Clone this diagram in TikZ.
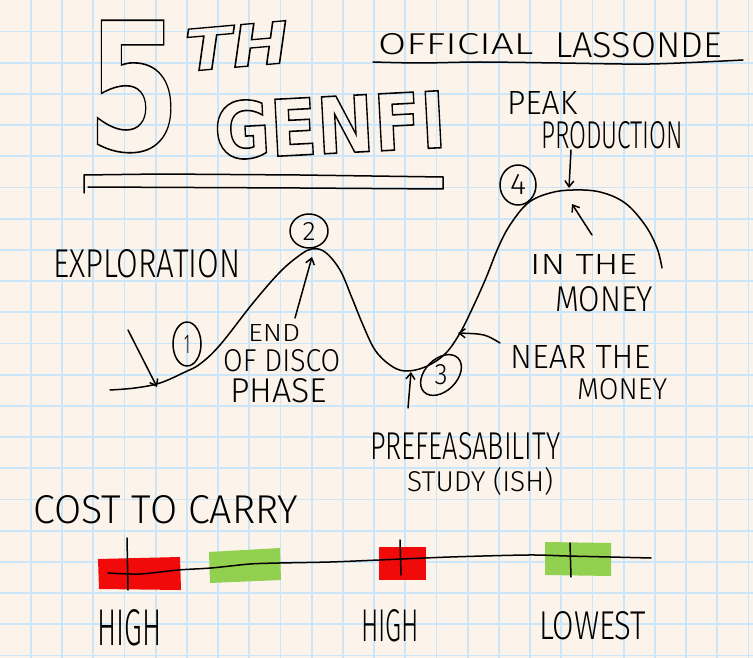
\documentclass[tikz,border=0pt]{standalone}
\usepackage{fontspec}
\usetikzlibrary{arrows.meta,shapes.geometric}
\IfFontExistsTF{Fira Sans Light}{\newfontfamily\hand{Fira Sans Light}}{\newfontfamily\hand{Fira Sans}}
\newfontfamily\titlefont{DejaVu Sans}
\definecolor{paper}{HTML}{FCF3EA}
\definecolor{gridblue}{HTML}{CAE6F8}
\definecolor{hired}{HTML}{F00A0A}
\definecolor{logreen}{HTML}{92D050}
\newcommand{\hw}[3]{\resizebox{#1pt}{#2pt}{\hand\fontsize{20}{24}\selectfont #3}}
\newcommand{\outl}[2]{\special{pdf:literal direct #1 w 1 Tr}#2\special{pdf:literal direct 0 Tr}}
\begin{document}
\begin{tikzpicture}[x=1pt,y=-1pt,
  hand/.style={line width=1.5pt,line cap=round,line join=round,draw=black},
  harrow/.style={hand,-{Straight Barb[length=6pt,width=9pt]}},
  txt/.style={anchor=south west,inner sep=0pt},
  gridline/.style={line width=1.8pt,draw=gridblue},
  numcirc/.style={draw,ellipse,hand,inner sep=0pt}]
\useasboundingbox (0,0) rectangle (753,658);
\fill[paper] (0,0) rectangle (753,658);
\foreach \i in {0,...,23} \draw[gridline] ({30.8+31.2*\i},0) -- ({30.8+31.2*\i},658);
\foreach \j in {0,...,20} \draw[gridline] (0,{31.5+31.2*\j}) -- (753,{31.5+31.2*\j});

% title
\node[txt] (five) at (87,153) {\resizebox{93pt}{130pt}{\titlefont\bfseries\fontsize{180}{180}\selectfont\outl{1.6}{5}}};
\node[inner sep=0pt,rotate=5] (th) at (237,46) {\resizebox{104pt}{42pt}{\titlefont\bfseries\itshape\fontsize{60}{60}\selectfont\outl{1.4}{TH}}};
\node[inner sep=0pt,rotate=3] (genfi) at (330,125) {\resizebox{232pt}{58pt}{\titlefont\bfseries\fontsize{60}{60}\selectfont\outl{1.2}{GENFI}}};
\draw[hand] (84,193) -- (84,175) -- (160,174) -- (300,175) -- (443,177) -- (443,189) -- (300,188) -- (88,187);

\node[txt] (official) at (378,55) {\hw{155}{21}{OFFICIAL}};
\node[txt] (lassonde) at (555,58) {\hw{167}{25}{LASSONDE}};
\draw[hand] plot[smooth] coordinates {(373,62) (420,63) (480,62) (560,63) (650,64) (743,60)};

% curve
\draw[hand] plot[smooth,tension=0.6] coordinates {(110,390) (135,388) (160,383) (185,372) (200,364) (220,345) (253,303) (280,272) (300,255) (312,249) (325,252) (340,270) (352,298) (363,325) (375,350) (390,365) (405,371) (425,367) (445,354) (460,333) (473,307) (486,278) (498,248) (510,225) (528,203) (550,193) (573,190) (600,192) (625,203) (645,225) (657,248) (662,268)};

\node[numcirc,minimum width=28pt,minimum height=44pt] (c1) at (187,344) {\hw{6}{18}{1}};
\node[numcirc,minimum width=38pt,minimum height=34pt] (c2) at (309,231) {\hw{13}{18}{2}};
\node[inner sep=0pt] (c3) at (441,375) {\hw{13}{20}{3}};
\draw[hand,rotate around={45:(c3)}] (c3) ellipse [x radius=24pt,y radius=16pt];
\node[numcirc,minimum width=36pt,minimum height=40pt] (c4) at (518,185) {\hw{16}{20}{4}};

% labels
\node[txt] (peak) at (507,115) {\hw{70}{23}{PEAK}};
\node[txt] (prod) at (541,149) {\hw{142}{27}{PRODUCTION}};
\node[txt] (explo) at (53,278) {\hw{187}{28}{EXPLORATION}};
\node[txt] (end) at (248,342) {\hw{52}{17}{END}};
\node[txt] (ofdisco) at (223,372) {\hw{117}{22}{OF DISCO}};
\node[txt] (phase) at (230,403) {\hw{97}{24}{PHASE}};
\node[txt] (intheA) at (530,275) {\hw{107}{20}{IN THE}};
\node[txt] (moneyA) at (555,312) {\hw{98}{25}{MONEY}};
\node[txt] (near) at (510,369) {\hw{140}{23}{NEAR THE}};
\node[txt] (moneyB) at (577,400) {\hw{90}{21}{MONEY}};
\node[txt] (prefeas) at (370,460) {\hw{190}{27}{PREFEASABILITY}};
\node[txt] (study) at (407,496) {\hw{146}{24}{STUDY (ISH)}};

% arrows
\coordinate (a1s) at (128,330); \coordinate (a1e) at (157,387);
\coordinate (a2s) at (295,318); \coordinate (a2e) at (312,257);
\coordinate (a3s) at (408,408); \coordinate (a3e) at (411,372);
\coordinate (a4s) at (500,343); \coordinate (a4e) at (458,333);
\coordinate (a5s) at (592,235); \coordinate (a5e) at (572,204);
\coordinate (a6s) at (571,150); \coordinate (a6e) at (569,188);
\draw[harrow] (a1s) -- (a1e);
\draw[harrow] (a2s) -- (a2e);
\draw[harrow] (a3s) -- (a3e);
\draw[harrow] (a4s) .. controls (485,334) .. (a4e);
\draw[harrow] (a5s) -- (a5e);
\draw[harrow] (a6s) -- (a6e);

% cost to carry
\node[txt] (cost) at (33,524) {\hw{265}{28}{COST TO CARRY}};
\fill[hired] (98,559) -- (180,557) -- (181,590) -- (99,589) -- cycle;
\fill[logreen] (209,552) -- (280,548) -- (281,580) -- (210,583) -- cycle;
\fill[hired] (379,547) -- (426,547) -- (426,580) -- (379,580) -- cycle;
\fill[logreen] (545,542) -- (611,543) -- (611,576) -- (545,575) -- cycle;
\draw[hand] plot[smooth,tension=0.5] coordinates {(108,573) (140,574) (178,570) (211,568) (250,564) (279,563) (330,562) (379,560) (450,557) (528,555) (567,556) (610,557) (651,558)};
\draw[hand] (127,538) -- (128,590);
\draw[hand] (400,540) -- (401,575);
\draw[hand] (570,543) -- (571,577);
\node[txt] (high1) at (97,646) {\hw{64}{36}{HIGH}};
\node[txt] (high2) at (361,642) {\hw{58}{32}{HIGH}};
\node[txt] (lowest) at (539,640) {\hw{107}{28}{LOWEST}};
\end{tikzpicture}
\end{document}
